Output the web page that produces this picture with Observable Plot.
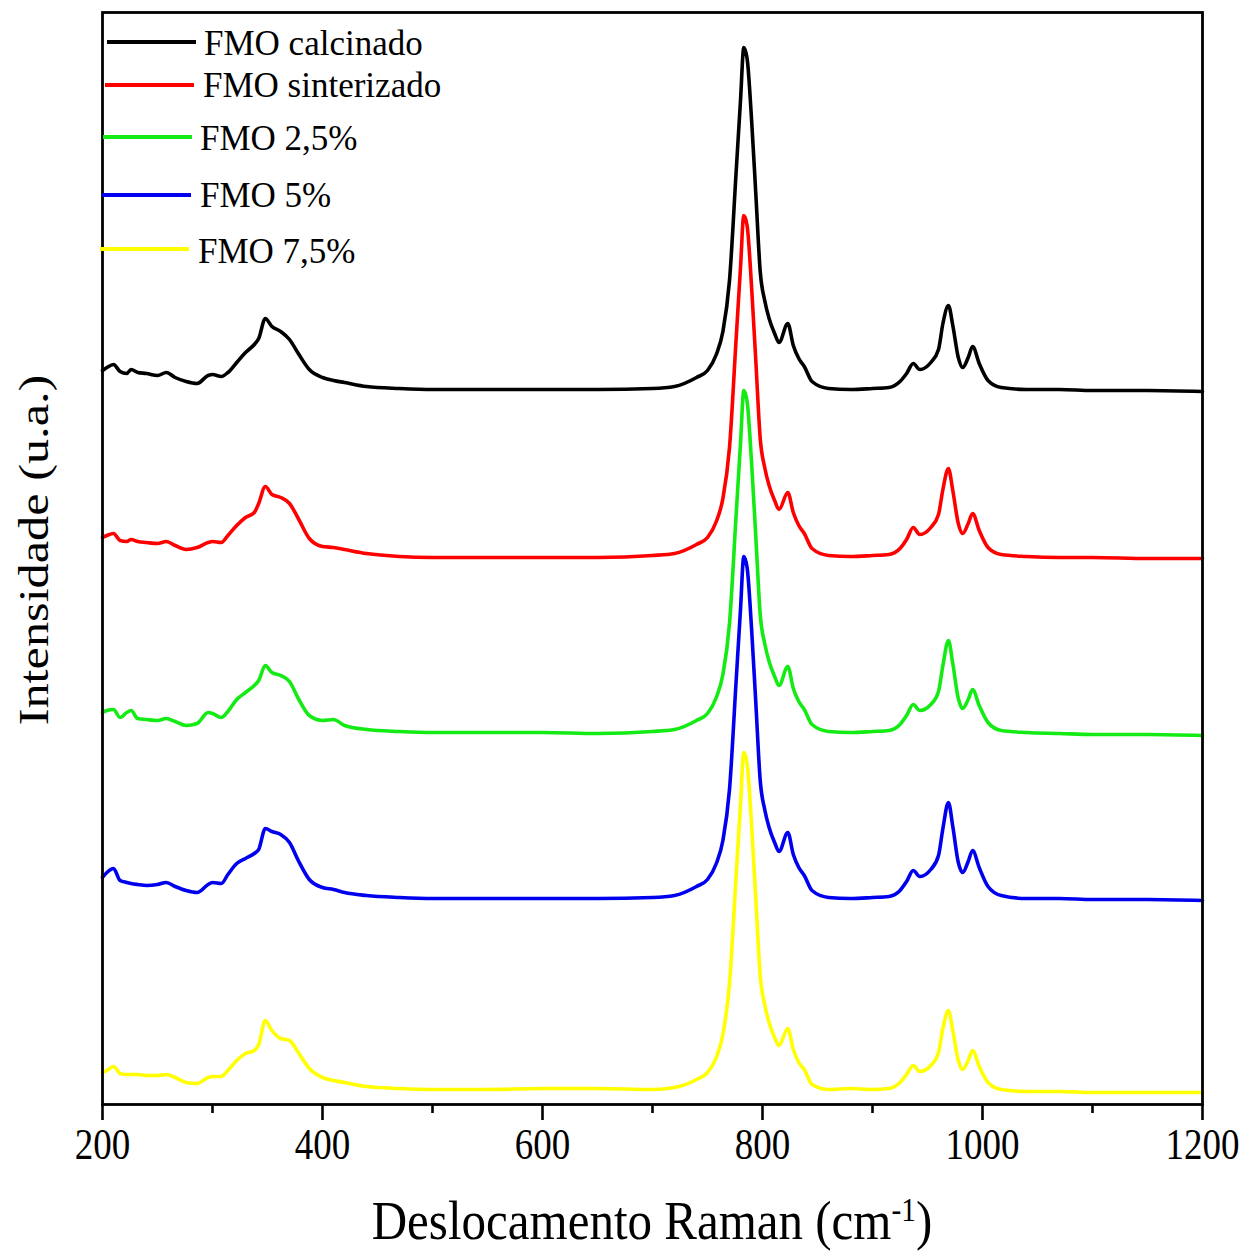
<!DOCTYPE html>
<html>
<head>
<meta charset="utf-8">
<script src="https://cdn.jsdelivr.net/npm/d3@7"></script>
<script src="https://cdn.jsdelivr.net/npm/@observablehq/plot@0.6"></script>
<style>
  html, body { margin: 0; padding: 0; background: #fff; }
  #wrap { position: relative; width: 1260px; height: 1255px; font-family: "Liberation Serif", "Times New Roman", serif; color: #000; }
  #wrap svg { position: absolute; left: 0; top: 0; }
  .leg-line { position: absolute; height: 4px; }
  .leg-text { position: absolute; font-size: 35px; line-height: 35px; white-space: nowrap; }
  #ylab { position: absolute; left: 33px; top: 550px; font-size: 43px; line-height: 43px; white-space: nowrap;
          transform: translate(-50%, -50%) rotate(-90deg) scaleX(1.17); }
  #xlab { position: absolute; left: 652px; top: 1193px; font-size: 49px; line-height: 49px; white-space: nowrap;
          transform: translateX(-50%) scaleY(1.12); transform-origin: top center; }
  #xlab sup { font-size: 0.6em; position: relative; top: -0.55em; vertical-align: baseline; line-height: 0; }
</style>
</head>
<body>
<div id="wrap"></div>
<script>
// Raman shift grid (cm-1)
const ramanShift = [200, 204, 210, 216, 222, 226, 232, 240, 250, 258, 266, 276, 286, 296, 300, 308, 314, 322, 330, 338, 342, 348, 354, 362, 370, 378, 388, 400, 410, 420, 440, 470, 500, 550, 600, 650,
  700, 720, 740, 750, 758, 764, 770, 776, 780, 783, 786, 790, 794, 798, 802, 806, 811, 815, 823, 828, 833, 838, 845, 860, 880, 900,
  915, 925, 931, 937, 943, 953, 960, 964, 969, 973, 978, 982, 987, 991, 997, 1005, 1017, 1040, 1070, 1100, 1150, 1200];

// Intensities (arbitrary units, stacked as in the figure)
const calcinado = [730, 733, 736, 729, 727, 731, 728, 727, 725, 728, 723, 719, 717, 725, 726, 724, 728, 738, 748, 756, 762, 782, 774, 769, 761, 747, 731, 723, 720, 718, 714, 712, 711, 711, 711, 711,
  712, 714, 723, 730, 746, 769, 820, 928, 1000, 1053, 1042, 982, 905, 828, 800, 782, 767, 758, 777, 755, 742, 734, 719, 712, 711, 712,
  713, 719, 727, 737, 731, 738, 751, 777, 795, 775, 743, 733, 743, 754, 737, 720, 713, 711, 711, 710, 710, 709];

const sinterizado = [563, 565, 567, 560, 559, 561, 559, 558, 557, 559, 555, 551, 553, 558, 559, 558, 565, 575, 583, 588, 597, 614, 606, 603, 597, 582, 562, 554, 553, 551, 547, 544, 543, 543, 543, 543,
  545, 547, 556, 563, 579, 602, 653, 761, 833, 885, 875, 815, 738, 661, 633, 615, 600, 591, 608, 588, 575, 567, 552, 545, 544, 545,
  546, 552, 561, 573, 566, 573, 586, 611, 632, 610, 577, 567, 577, 587, 570, 553, 546, 544, 543, 543, 542, 542];

const fmo25 = [388, 390, 391, 383, 388, 390, 382, 381, 380, 382, 379, 375, 377, 388, 387, 383, 389, 401, 408, 415, 420, 435, 428, 425, 419, 402, 385, 380, 381, 375, 371, 369, 368, 368, 368, 367,
  369, 371, 380, 387, 403, 426, 477, 585, 657, 710, 699, 639, 562, 485, 457, 439, 424, 415, 434, 412, 399, 391, 376, 369, 368, 369,
  370, 376, 385, 396, 390, 396, 409, 435, 460, 437, 402, 392, 401, 411, 395, 378, 370, 368, 367, 366, 366, 365];

const fmo5 = [223, 228, 232, 220, 218, 217, 216, 215, 216, 218, 214, 210, 208, 216, 218, 217, 226, 237, 242, 247, 251, 272, 269, 266, 258, 240, 221, 213, 211, 208, 205, 203, 202, 202, 202, 202,
  203, 205, 214, 221, 237, 260, 311, 419, 491, 544, 533, 473, 396, 319, 291, 273, 258, 249, 268, 246, 233, 225, 210, 203, 202, 203,
  204, 210, 219, 230, 224, 231, 245, 272, 298, 274, 238, 228, 239, 250, 233, 214, 205, 202, 202, 201, 201, 200];

const fmo75 = [28, 30, 34, 27, 26, 26, 26, 25, 25, 26, 23, 18, 17, 23, 24, 24, 30, 40, 47, 50, 56, 80, 70, 62, 60, 48, 32, 23, 20, 18, 14, 12, 11, 11, 12, 12,
  11, 13, 21, 28, 43, 66, 117, 224, 296, 348, 337, 277, 200, 124, 96, 78, 63, 55, 72, 51, 38, 31, 16, 11, 12, 11,
  12, 18, 26, 35, 29, 35, 48, 72, 90, 70, 40, 31, 40, 50, 34, 18, 11, 9, 9, 8, 8, 8];

const seriesNames = ["FMO calcinado", "FMO sinterizado", "FMO 2,5%", "FMO 5%", "FMO 7,5%"];
const seriesValues = [calcinado, sinterizado, fmo25, fmo5, fmo75];
const xTicksMajor = [200, 400, 600, 800, 1000, 1200];
const xTicksMinor = [300, 500, 700, 900, 1100];

// styles
const seriesColors = ["#000000", "#ff0000", "#14eb14", "#0000ee", "#ffff00"];
const legendRows = [
  {line: [107, 196, 42], text: [204, 55]},
  {line: [105, 194, 85], text: [203, 97]},
  {line: [103, 192, 137], text: [200, 150]},
  {line: [102, 191, 195], text: [200, 207]},
  {line: [100, 189, 249], text: [198, 263]}
];

const rows = [];
seriesNames.forEach((name, s) => {
  ramanShift.forEach((x, i) => rows.push({shift: x, intensity: seriesValues[s][i], series: name}));
});

const chart = Plot.plot({
  width: 1260,
  height: 1255,
  marginLeft: 102,
  marginRight: 58,
  marginTop: 12,
  marginBottom: 151,
  style: {fontFamily: "'Liberation Serif', 'Times New Roman', serif", fontSize: "37px", color: "#000", background: "transparent"},
  x: {domain: [200, 1200], label: null},
  y: {domain: [-4, 1088], axis: null},
  color: {domain: seriesNames, range: seriesColors},
  marks: [
    Plot.line(rows, {x: "shift", y: "intensity", z: "series", stroke: "series", strokeWidth: 3.6, curve: "monotone-x", strokeLinejoin: "round"}),
    Plot.axisX({ticks: xTicksMinor, tickSize: 9, tickFormat: () => "", strokeWidth: 2.6, label: null}),
    Plot.axisX({ticks: xTicksMajor, tickSize: 16, tickPadding: 8, tickFormat: d3.format("d"), strokeWidth: 2.6, fontSize: 37, label: null}),
    Plot.frame({stroke: "#000", strokeWidth: 2.8})
  ]
});

const wrap = document.getElementById("wrap");
wrap.appendChild(chart);

d3.select(chart).selectAll('[aria-label="x-axis tick label"] text').each(function () {
  const t = this.getAttribute("transform") || "";
  this.setAttribute("transform", (t + " scale(1,1.17)").trim());
});

legendRows.forEach((r, i) => {
  const ln = document.createElement("div");
  ln.className = "leg-line";
  ln.style.left = r.line[0] + "px";
  ln.style.width = (r.line[1] - r.line[0]) + "px";
  ln.style.top = (r.line[2] - 2) + "px";
  ln.style.background = seriesColors[i];
  wrap.appendChild(ln);
  const tx = document.createElement("div");
  tx.className = "leg-text";
  tx.style.left = r.text[0] + "px";
  tx.style.top = (r.text[1] - 29.3) + "px";
  tx.textContent = seriesNames[i];
  wrap.appendChild(tx);
});

const ylab = document.createElement("div");
ylab.id = "ylab";
ylab.textContent = "Intensidade (u.a.)";
wrap.appendChild(ylab);

const xlab = document.createElement("div");
xlab.id = "xlab";
xlab.innerHTML = "Deslocamento Raman (cm<sup>-1</sup>)";
wrap.appendChild(xlab);
</script>
</body>
</html>
